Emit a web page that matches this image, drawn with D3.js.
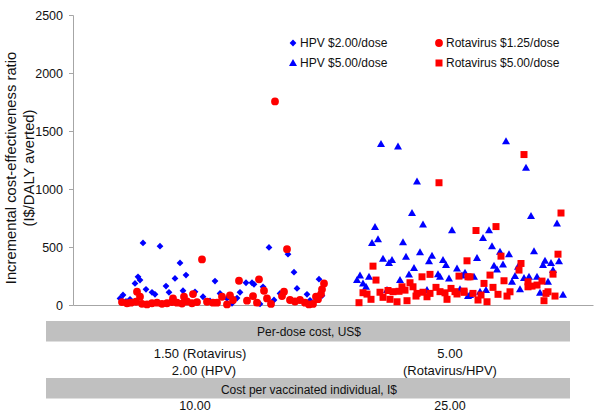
<!DOCTYPE html>
<html><head><meta charset="utf-8">
<script src="https://cdn.jsdelivr.net/npm/d3@7"></script>
<style>body{margin:0;background:#fff}svg{display:block}text{font-family:"Liberation Sans",Arial,sans-serif}</style>
</head><body><div id="chart"></div>
<script>
// ---- data (x = scenario position, y = I$/DALY averted) ----
const yTicks = [0, 500, 1000, 1500, 2000, 2500];
const seriesNames = ["HPV $2.00/dose", "Rotavirus $1.25/dose", "HPV $5.00/dose", "Rotavirus $5.00/dose"];
const hpv2 = [[70,535],[87,507],[107,363],[113,258],[102,229],[65,243],[67,215],[62,186],[93,163],[73,135],[96,109],[79,109],[82,92],[50,86],[110,123],[122,114],[47,57],[57,49],
 [196,496],[215,438],[221,283],[142,206],[173,192],[179,192],[181,178],[246,223],[224,143],[167,109],[190,157],[147,100],[234,92],[249,80],[207,100],[130,71],[154,57],[187,9],[201,43],
 [53,30],[99,20],[137,35],[164,60],[237,40],[159,15]];
const rota125 = [[202,1755],[129,393],[214,481],[64,114],[67,71],[120,94],[186,221],[166,209],[251,186],[191,123],[249,135],[248,94],[211,114],[243,71],[180,77],[209,77],[157,83],[160,43],[149,71],[174,37],[184,20],[194,57],[198,9],[217,43],[227,43],[236,5],[240,9],[134,28],[140,20],[144,20],[154,5],
 [49,25],[54,15],[58,20],[63,28],[69,10],[74,5],[79,15],[84,20],[89,10],[94,15],[99,25],[104,20],[109,12],[114,30],[119,15],[124,25],[100,57],[111,71],[222,30],[232,20],[245,50]];
const hpv5 = [[308,1389],[325,1366],[344,1065],[339,793],[302,673],[350,693],[379,644],[305,567],[299,535],[330,541],[347,455],[333,415],[359,424],[310,398],[319,387],[316,363],[356,378],[370,387],[373,344],[341,320],[384,315],[392,278],[336,264],[365,266],[367,243],[376,229],[287,255],[284,215],[296,243],[290,186],[293,157],[327,215],[314,129],[354,129],[387,135],[395,77],
 [433,1412],[453,1183],[458,767],[484,702],[416,644],[410,578],[419,507],[461,464],[427,458],[436,438],[404,406],[472,381],[478,363],[486,378],[470,344],[421,338],[424,307],[430,350],[445,329],[442,249],[451,232],[456,243],[464,243],[480,301],[475,200],[439,200],[401,243],[389,255],[447,135],[413,129],[407,114],[467,106],[490,89],[397,86]];
const rota5 = [[366,1054],[300,335],[394,381],[303,215],[349,243],[357,264],[386,249],[395,243],[337,192],[329,157],[340,157],[363,152],[378,143],[290,106],[294,94],[307,110],[315,125],[320,115],[326,118],[332,128],[344,100],[350,110],[357,100],[367,115],[372,105],[382,115],[391,120],[286,20],[298,49],[310,66],[317,49],[324,28],[334,37],[343,77],[354,71],[374,49],[384,95],
 [451,1297],[488,793],[403,642],[423,676],[428,421],[485,438],[448,358],[446,301],[480,266],[417,258],[397,243],[431,209],[469,206],[411,186],[455,200],[459,163],[464,172],[420,152],[455,157],[437,114],[434,77],[475,114],[473,100],[391,109],[400,100],[425,92],[408,86],[482,77],[405,43],[414,28],[471,37]];
const band1Label = "Per-dose cost, US$";
const band2Label = "Cost per vaccinated individual, I$";
const groupLabels = [["1.50 (Rotavirus)", "2.00 (HPV)"], ["5.00", "(Rotavirus/HPV)"]];
const groupCosts = ["10.00", "25.00"];

// ---- layout ----
const W = 600, H = 413;
const svg = d3.select("#chart").append("svg").attr("width", W).attr("height", H);
const x = d3.scaleLinear().domain([0, 520]).range([73, 593]);
const y = d3.scaleLinear().domain([0, 2500]).range([305, 15]);
const axisCol = "#a6a6a6";

const yAxis = svg.append("g").attr("transform", "translate(73,0)")
  .call(d3.axisLeft(y).tickValues(yTicks).tickSize(4).tickPadding(6).tickFormat(d3.format("d")));
yAxis.selectAll("path,line").attr("stroke", axisCol);
yAxis.selectAll("text").attr("font-size", 12.5).attr("fill", "#111").attr("font-family", "Liberation Sans, Arial");

const xAxis = svg.append("g").attr("transform", "translate(0,305)")
  .call(d3.axisBottom(x).tickValues([]).tickSizeOuter(0));
xAxis.selectAll("path").attr("stroke", axisCol);

// y title
svg.append("text").attr("transform", "translate(15.5,168) rotate(-90)")
  .attr("text-anchor", "middle").attr("font-size", 14.8).attr("fill", "#111")
  .text("Incremental cost-effectiveness ratio");
svg.append("text").attr("transform", "translate(33.5,168) rotate(-90)")
  .attr("text-anchor", "middle").attr("font-size", 14.8).attr("fill", "#111").text("(I$/DALY averted)");

// shapes
const shapes = {
  diamond: r => `M0,${-r}L${r},0L0,${r}L${-r},0Z`,
  triangle: r => `M0,${-r}L${r},${r*0.75}L${-r},${r*0.75}Z`,
  square: r => `M${-r},${-r}H${r}V${r}H${-r}Z`,
  circle: r => `M${r},0A${r},${r} 0 1,1 ${-r},0A${r},${r} 0 1,1 ${r},0Z`
};
const BLUE = "#0000ff", RED = "#ff0000";
const defs = [
  {data: hpv2, shape: "diamond", r: 3.4, color: BLUE},
  {data: hpv5, shape: "triangle", r: 4, color: BLUE},
  {data: rota125, shape: "circle", r: 3.9, color: RED},
  {data: rota5, shape: "square", r: 3.5, color: RED}
];
defs.forEach(s => {
  svg.append("g").selectAll("path").data(s.data).join("path")
    .attr("d", shapes[s.shape](s.r))
    .attr("transform", d => `translate(${x(d[0])},${y(d[1])})`)
    .attr("fill", s.color);
});

// legend
const legend = [
  {name: seriesNames[0], shape: "diamond", r: 3.4, color: BLUE, lx: 293, ly: 43},
  {name: seriesNames[1], shape: "circle", r: 3.9, color: RED, lx: 439, ly: 43},
  {name: seriesNames[2], shape: "triangle", r: 4, color: BLUE, lx: 293, ly: 63},
  {name: seriesNames[3], shape: "square", r: 3.5, color: RED, lx: 439, ly: 63}
];
legend.forEach(l => {
  svg.append("path").attr("d", shapes[l.shape](l.r)).attr("fill", l.color)
    .attr("transform", `translate(${l.lx},${l.ly})`);
  svg.append("text").attr("x", l.lx + 7).attr("y", l.ly + 4.3).attr("font-size", 12).attr("fill", "#111").text(l.name);
});

// bottom bands
const bandX0 = 46, bandX1 = 570;
svg.append("rect").attr("x", bandX0).attr("y", 321).attr("width", bandX1 - bandX0).attr("height", 20.5).attr("fill", "#c0c0c0");
svg.append("rect").attr("x", bandX0).attr("y", 378).attr("width", bandX1 - bandX0).attr("height", 20.5).attr("fill", "#c0c0c0");
svg.append("text").attr("x", 309).attr("y", 335.5).attr("text-anchor", "middle").attr("font-size", 12).attr("fill", "#111").text(band1Label);
svg.append("text").attr("x", 309).attr("y", 393.5).attr("text-anchor", "middle").attr("font-size", 12).attr("fill", "#111").text(band2Label);

const groupCenters = [x(127), x(377)];
groupLabels.forEach((g, i) => {
  g.forEach((t, j) => {
    svg.append("text").attr("x", groupCenters[i] + (i === 0 && j === 1 ? 4 : 0)).attr("y", 357.5 + j * 17.5)
      .attr("text-anchor", "middle").attr("font-size", 13).attr("fill", "#111").text(t);
  });
});
groupCosts.forEach((t, i) => {
  svg.append("text").attr("x", groupCenters[i] - (i === 0 ? 5 : 0)).attr("y", 410)
    .attr("text-anchor", "middle").attr("font-size", 12.5).attr("fill", "#111").text(t);
});
</script></body></html>
